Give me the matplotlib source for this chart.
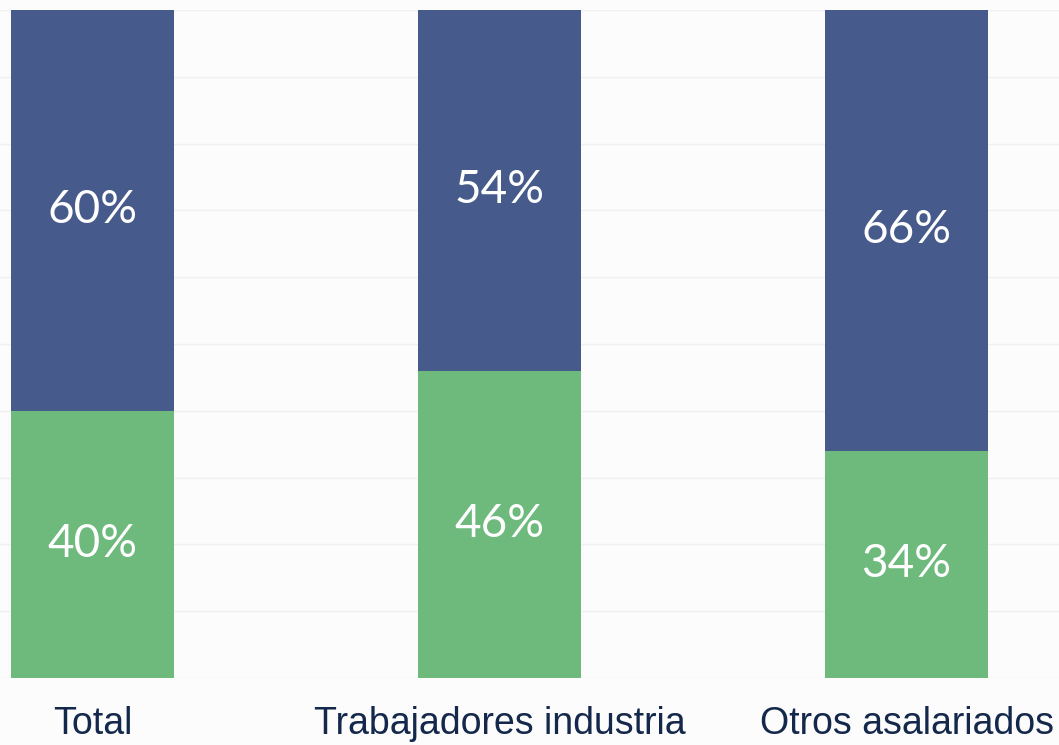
import numpy as np
import matplotlib.pyplot as plt

categories = ['Total', 'Trabajadores industria', 'Otros asalariados']
green_vals = [40, 46, 34]
blue_vals = [60, 54, 66]

bg = '#fcfcfc'
blue = '#465b8b'
green = '#6dba7c'
navy = '#14284b'

fig = plt.figure(figsize=(10.59, 7.45), dpi=100, facecolor=bg)
ax = fig.add_axes([0, 1 - 678 / 745, 1, 668 / 745], facecolor=bg)

x = np.arange(len(categories))
ax.bar(x, green_vals, width=0.4, color=green, zorder=2)
ax.bar(x, blue_vals, width=0.4, bottom=green_vals, color=blue, zorder=2)

for i in range(len(categories)):
    ax.text(x[i], green_vals[i] / 2, f'{green_vals[i]}%', ha='center', va='center',
            color='white', fontsize=33, family='Lato', zorder=3)
    ax.text(x[i], green_vals[i] + blue_vals[i] / 2, f'{blue_vals[i]}%', ha='center',
            va='center', color='white', fontsize=33, family='Lato', zorder=3)

ax.set_xlim(-92.5 / 407, (1059 - 92.5) / 407)
ax.set_ylim(0, 100)
ax.set_yticks(np.arange(0, 101, 10))
ax.yaxis.grid(True, color='#f0f0f0', linewidth=1, zorder=0)
ax.set_yticklabels([])
ax.tick_params(left=False, bottom=False)
ax.set_xticks(x)
ax.set_xticklabels(categories, fontsize=27, color=navy, family='Liberation Sans')
ax.tick_params(axis='x', pad=17)
for s in ax.spines.values():
    s.set_visible(False)

fig.savefig('out.png', dpi=100, facecolor=bg)
